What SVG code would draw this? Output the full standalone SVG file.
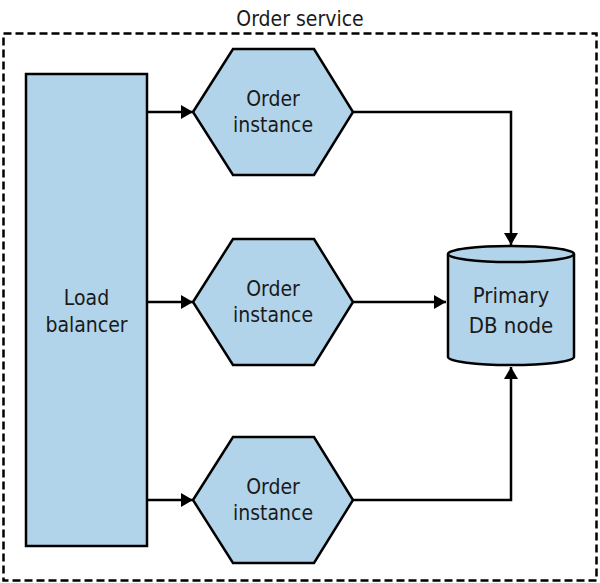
<svg xmlns="http://www.w3.org/2000/svg" width="600" height="583" viewBox="0 0 600 583">
<style>
.shape{fill:#b2d4ea;stroke:#000;stroke-width:2.5;stroke-linejoin:miter}
.t{font-family:"DejaVu Sans Condensed","DejaVu Sans","Liberation Sans",sans-serif;font-stretch:condensed;font-size:21px;fill:#1a1a1a;text-anchor:middle}
.c{fill:none;stroke:#000;stroke-width:2.5}
</style>
<defs>
<marker id="ah" viewBox="0 0 12 14" refX="12" refY="7" markerWidth="12" markerHeight="14" markerUnits="userSpaceOnUse" orient="auto">
<path d="M0,0 L12,7 L0,14 Z" fill="#000"/>
</marker>
</defs>
<g id="order-service">
<rect x="3.5" y="33.5" width="593" height="547" fill="none" stroke="#000" stroke-width="2.5" stroke-dasharray="8,4"/>
<text class="t" x="300" y="26">Order service</text>
</g>
<g id="load-balancer">
<rect class="shape" x="26" y="74" width="121" height="472"/>
<text class="t" x="86.5" y="305">Load</text>
<text class="t" x="86.5" y="332">balancer</text>
</g>
<g id="order-instance-1">
<polygon class="shape" points="193,112 233,49 314,49 353,112 314,175 233,175"/>
<text class="t" x="273" y="106">Order</text>
<text class="t" x="273" y="132">instance</text>
</g>
<g id="order-instance-2">
<polygon class="shape" points="193,302 233,239 314,239 353,302 314,365 233,365"/>
<text class="t" x="273" y="296">Order</text>
<text class="t" x="273" y="322">instance</text>
</g>
<g id="order-instance-3">
<polygon class="shape" points="193,500 233,437 314,437 353,500 314,563 233,563"/>
<text class="t" x="273" y="494">Order</text>
<text class="t" x="273" y="520">instance</text>
</g>
<g id="primary-db">
<path class="shape" d="M448,254 L448,357 A63,8 0 0 0 574,357 L574,254 A63,8 0 0 0 448,254 Z"/>
<path d="M448,254 A63,8 0 0 0 574,254" fill="none" stroke="#000" stroke-width="2.5"/>
<text class="t" x="511" y="303" style="font-size:22px">Primary</text>
<text class="t" x="511" y="333" style="font-size:22px">DB node</text>
</g>
<g id="connectors">
<path class="c" d="M147,112 L193,112" marker-end="url(#ah)"/>
<path class="c" d="M147,302 L193,302" marker-end="url(#ah)"/>
<path class="c" d="M147,500 L193,500" marker-end="url(#ah)"/>
<path class="c" d="M353,112 L511,112 L511,245" marker-end="url(#ah)"/>
<path class="c" d="M353,302 L446,302" marker-end="url(#ah)"/>
<path class="c" d="M353,500 L511,500 L511,367" marker-end="url(#ah)"/>
</g>
</svg>
